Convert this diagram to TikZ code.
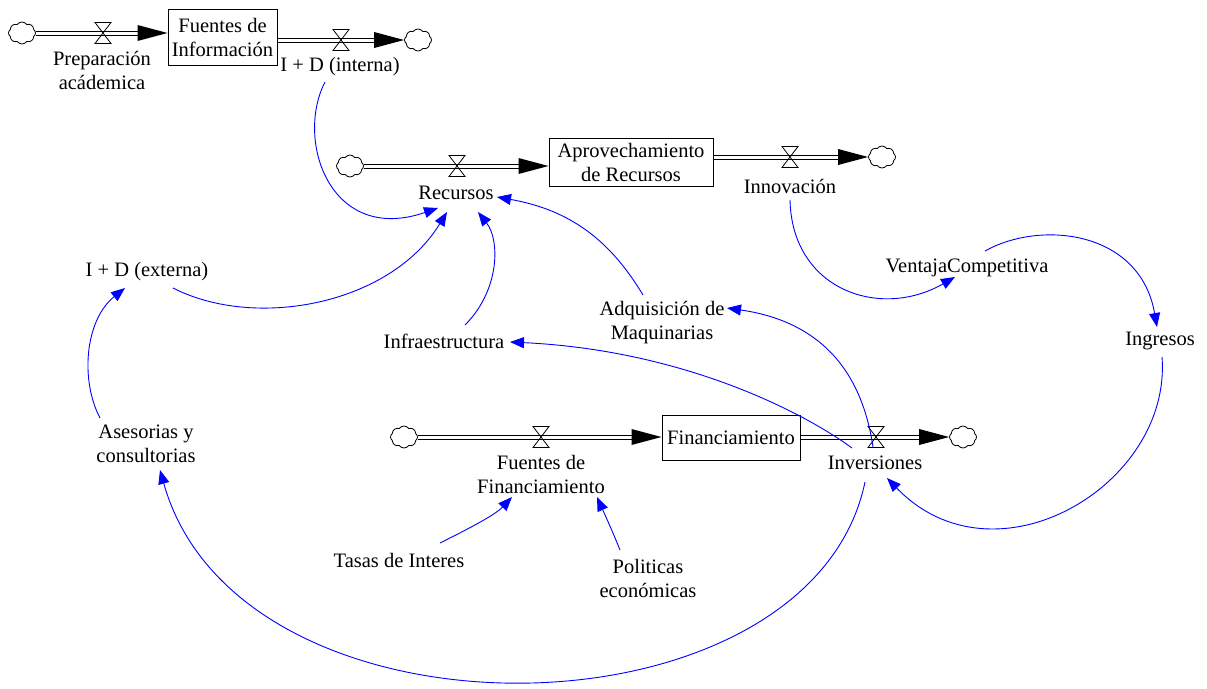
\documentclass[tikz,border=0pt]{standalone}
\usepackage{fontspec}
\setmainfont{Liberation Serif}
\usetikzlibrary{arrows.meta,shapes.symbols,calc}
\begin{document}
\begin{tikzpicture}[x=1pt,y=-1pt,
  txt/.style={font=\fontsize{20.5}{24}\selectfont, align=center, inner sep=1pt},
  stock/.style={draw, line width=1pt, txt, inner sep=0pt},
  cloudn/.style={cloud, cloud puffs=8, cloud puff arc=110, aspect=1.2, draw, line width=0.8pt, minimum width=27pt, minimum height=22pt, inner sep=0pt},
  pipe/.style={double, double distance=3pt, line width=1pt},
  link/.style={blue, line width=0.9pt, -{Triangle[length=14pt,width=11pt]}},
  valve/.pic={\draw[line width=0.8pt] (-8,-10.5)--(8,-10.5)--(-8,10.5)--(8,10.5)--cycle;}
]
\useasboundingbox (0,0) rectangle (1207,688);
\newcommand{\flowpipe}[2]{%
  \draw[pipe] (#1) -- ($(#2)+(-27,0)$);
  \fill ($(#2)+(-30,-8)$) -- (#2) -- ($(#2)+(-30,8)$) -- cycle;}

% ---- row 1
\node[cloudn] (c1) at (22,33) {};
\node[stock, minimum width=109pt, minimum height=56pt] (s1) at (222.5,37) {Fuentes de\\Información};
\node[cloudn] (c2) at (418,40) {};
\coordinate (s1in) at (s1.west |- c1.east);
\coordinate (s1out) at (s1.east |- c2.west);
\flowpipe{c1.east}{s1in}
\flowpipe{s1out}{c2.west}
\pic at (103,33) {valve};
\pic at (341,40) {valve};
\node[txt] (prep) at (102,70) {Preparación\\acádemica};
\node[txt] (interna) at (340,67) {I + D (interna)};

% ---- row 2
\node[cloudn] (c3) at (350,166) {};
\node[stock, minimum width=164pt, minimum height=48pt] (s2) at (631,162) {Aprovechamiento\\de Recursos};
\node[cloudn] (c4) at (882,157) {};
\coordinate (s2in) at (s2.west |- c3.east);
\coordinate (s2out) at (s2.east |- c4.west);
\flowpipe{c3.east}{s2in}
\flowpipe{s2out}{c4.west}
\pic at (457,166) {valve};
\pic at (790,157) {valve};
\node[txt] (recursos) at (456,193) {Recursos};
\node[txt] (innov) at (790,186) {Innovación};

% ---- row 3
\node[cloudn] (c5) at (404,437) {};
\node[stock, minimum width=138pt, minimum height=45pt] (s3) at (731,437.5) {Financiamiento};
\node[cloudn] (c6) at (963,437) {};
\coordinate (s3in) at (s3.west |- c5.east);
\coordinate (s3out) at (s3.east |- c6.west);
\flowpipe{c5.east}{s3in}
\flowpipe{s3out}{c6.west}
\pic at (541,437) {valve};
\pic at (876,437) {valve};
\node[txt] (fuentesfin) at (541,474.5) {Fuentes de\\Financiamiento};
\node[txt] (invers) at (875,463) {Inversiones};

% ---- auxiliaries
\node[txt] (externa) at (147,272) {I + D (externa)};
\node[txt] (infra) at (444,341) {Infraestructura};
\node[txt] (adq) at (662,322.5) {Adquisición de\\Maquinarias};
\node[txt] (ventaja) at (967,268) {VentajaCompetitiva};
\node[txt] (ingresos) at (1160,341) {Ingresos};
\node[txt] (asesorias) at (146,444) {Asesorias y\\consultorias};
\node[txt] (tasas) at (399,560) {Tasas de Interes};
\node[txt] (politicas) at (648,578) {Politicas\\económicas};

% ---- link end points
\coordinate (a1s) at (325,82);   \coordinate (a1e) at (438,208);
\coordinate (a2s) at (173,288);  \coordinate (a2e) at (447,212);
\coordinate (a3s) at (465,325);  \coordinate (a3e) at (478,212);
\coordinate (a4s) at (643,295);  \coordinate (a4e) at (497,197);
\coordinate (a5s) at (790,200);  \coordinate (a5e) at (955,277);
\coordinate (a6s) at (985,251);  \coordinate (a6e) at (1157,327);
\coordinate (a7s) at (1162,357); \coordinate (a7e) at (887,478);
\coordinate (a8s) at (873,447);  \coordinate (a8e) at (727,308);
\coordinate (a9s) at (852,448);  \coordinate (a9e) at (510,342);
\coordinate (a10s) at (865,482); \coordinate (a10e) at (160,470);
\coordinate (a11s) at (100,418); \coordinate (a11e) at (125,288);
\coordinate (a12s) at (440,543); \coordinate (a12e) at (512,497);
\coordinate (a13s) at (620,550); \coordinate (a13e) at (597,497);

% ---- links
\draw[link] (a1s) .. controls (295,140) and (330,245) .. (a1e);
\draw[link] (a2s) .. controls (255,330) and (390,305) .. (a2e);
\draw[link] (a3s) .. controls (500,290) and (500,240) .. (a3e);
\draw[link] (a4s) .. controls (610,240) and (570,210) .. (a4e);
\draw[link] (a5s) .. controls (792,290) and (880,320) .. (a5e);
\draw[link] (a6s) .. controls (1040,220) and (1140,230) .. (a6e);
\draw[link] (a7s) .. controls (1172,485) and (995,590) .. (a7e);
\draw[link] (a8s) .. controls (860,360) and (810,320) .. (a8e);
\draw[link] (a9s) .. controls (800,410) and (680,350) .. (a9e);
\draw[link] (a10s) .. controls (810,745) and (240,755) .. (a10e);
\draw[link] (a11s) .. controls (80,380) and (85,320) .. (a11e);
\draw[link] (a12s) .. controls (470,528) and (495,515) .. (a12e);
\draw[link] (a13s) .. controls (612,530) and (605,515) .. (a13e);
\end{tikzpicture}
\end{document}
